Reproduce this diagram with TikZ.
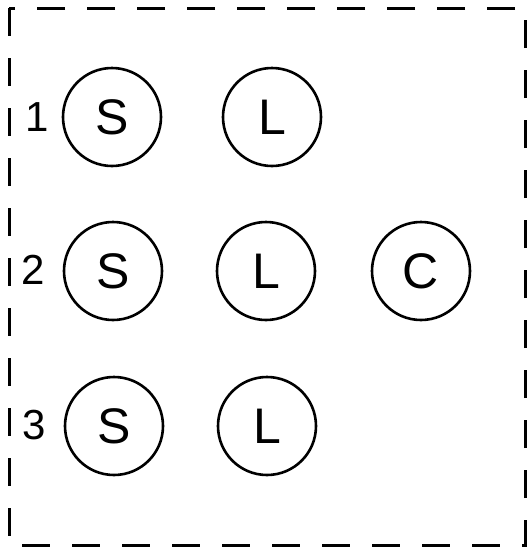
\documentclass[tikz,border=0pt]{standalone}
\usepackage{fontspec}
\setmainfont{Liberation Sans}
\begin{document}
\begin{tikzpicture}[x=1pt,y=-1pt,
  unit/.style={draw,circle,line width=2.6pt,minimum size=98pt,inner sep=0pt,
    font=\fontsize{50}{50}\selectfont},
  rowlabel/.style={inner sep=0pt,font=\fontsize{42}{42}\selectfont},
  frame/.style={line width=3pt,dash pattern=on 28pt off 22pt}]
\useasboundingbox (0,0) rectangle (528,547);
\draw[frame] (9,8) rectangle (525,545);
\node[unit] (s1) at (112,117) {S};
\node[unit] (l1) at (272,117) {L};
\node[unit] (s2) at (113,271) {S};
\node[unit] (l2) at (266,271) {L};
\node[unit] (c2) at (421,271) {C};
\node[unit] (s3) at (114,426) {S};
\node[unit] (l3) at (267,426) {L};
\node[rowlabel] (n1) at (37,117) {1};
\node[rowlabel] (n2) at (33,270) {2};
\node[rowlabel] (n3) at (34,425) {3};
\end{tikzpicture}
\end{document}
